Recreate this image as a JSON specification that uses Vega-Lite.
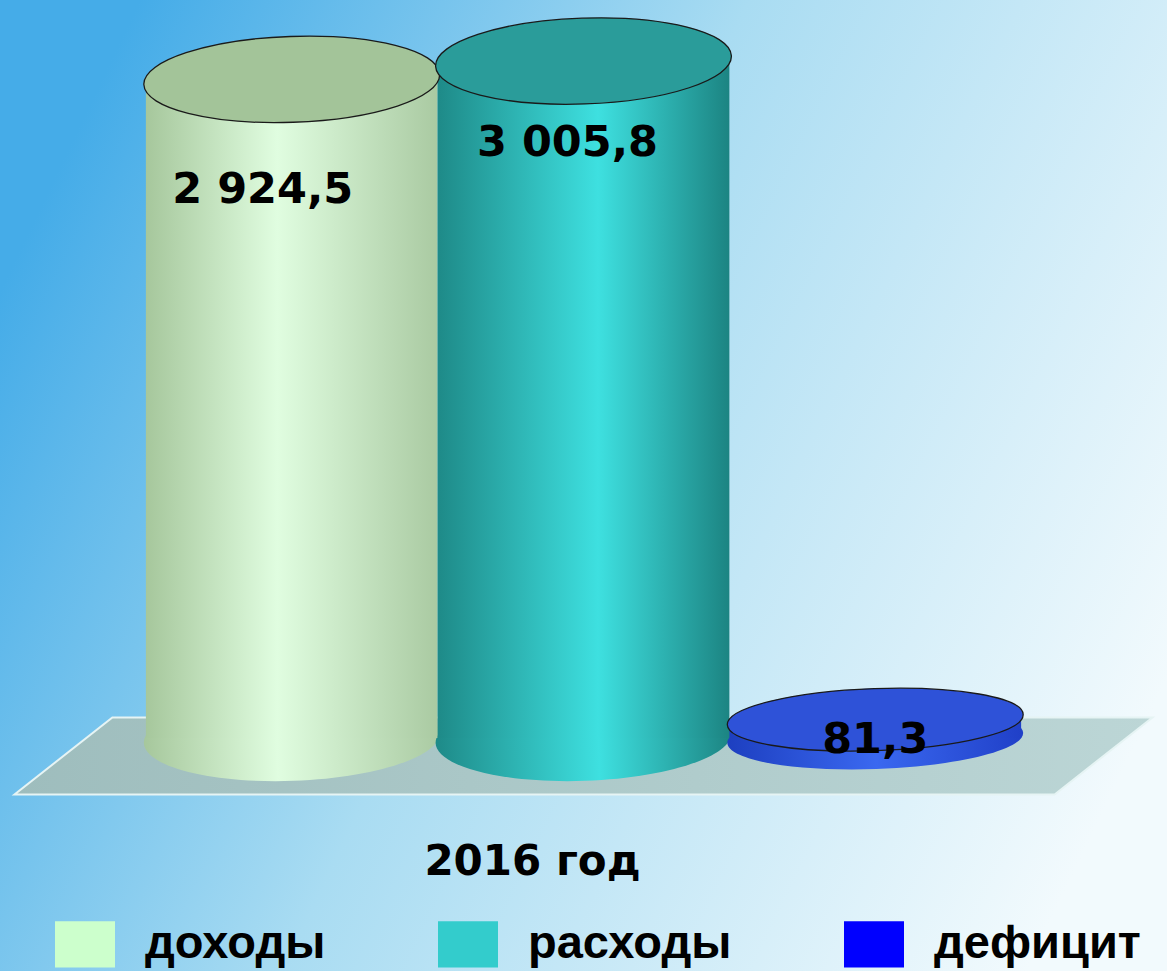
{
  "$schema": "https://vega.github.io/schema/vega-lite/v6.json",
  "width": 1167,
  "height": 971,
  "autosize": "none",
  "padding": 0,
  "background": "#ffffff",
  "config": {
    "view": {
      "stroke": null,
      "fill": {"gradient": "linear", "x1": 0, "y1": 0.3, "x2": 1, "y2": 0.7,
        "stops": [{"offset": 0, "color": "#45ace8"}, {"offset": 0.45, "color": "#a9dcf2"}, {"offset": 1, "color": "#f2fafd"}]}
    },
    "font": "DejaVu Sans"
  },
  "data": {"values": [
    {"cat": "доходы", "value": 2924.5, "label": "2 924,5"},
    {"cat": "расходы", "value": 3005.8, "label": "3 005,8"},
    {"cat": "дефицит", "value": 81.3, "label": "81,3"}
  ]},
  "encoding": {
    "x": {"field": "cat", "type": "nominal", "sort": ["доходы", "расходы", "дефицит"],
      "scale": {"paddingInner": 0, "paddingOuter": 0.5},
      "axis": {"labels": false, "ticks": false, "domain": false, "grid": false, "title": "2016 год",
        "titleFont": "DejaVu Sans", "titleFontWeight": "bold", "titleFontSize": 42, "titleColor": "#000000",
        "offset": -130, "titlePadding": 0, "titleX": 532, "titleAlign": "center"}}
  },
  "layer": [
    {
      "mark": {"type": "point", "filled": true, "size": 1295044, "opacity": 1,
        "shape": "M-1,0.0677L0.828,0.0677L1,-0.0677L-0.828,-0.0677Z",
        "fill": {"gradient": "linear", "x1": 0, "y1": 0, "x2": 1, "y2": 0, "stops": [{"offset": 0, "color": "#9ebdbd"}, {"offset": 1, "color": "#bcd6d6"}]},
        "stroke": "#e6f4f4", "strokeWidth": 2},
      "transform": [{"filter": "datum.cat === 'расходы'"}],
      "encoding": {"x": {"datum": "расходы"}, "y": {"datum": -80, "type": "quantitative", "scale": {"domain": [-1035, 3277], "nice": false, "zero": false}, "axis": null}}
    },
    {
      "mark": {"type": "bar", "width": {"band": 1}},
      "encoding": {
        "y": {"field": "value", "type": "quantitative", "stack": null, "scale": {"domain": [-1035, 3277], "nice": false, "zero": false}, "axis": null},
        "y2": {"field": "value"},
        "color": {"field": "cat", "type": "nominal",
          "scale": {"domain": ["доходы", "расходы", "дефицит"], "range": ["#ccffcc", "#33cccc", "#0000ff"]},
          "legend": {"title": null, "orient": "none", "legendX": 55, "legendY": 914, "direction": "horizontal", "columns": 3,
            "symbolType": "M-1,-0.77H1V0.77H-1Z", "symbolSize": 3600, "symbolStrokeWidth": 0, "symbolOpacity": 1,
            "labelFont": "Liberation Sans", "labelFontWeight": "bold", "labelFontSize": 47, "labelColor": "#000000",
            "labelOffset": 30, "columnPadding": 112, "labelLimit": 400}}
      }
    },
    {
      "mark": {"type": "point", "filled": true, "size": 87616, "angle": -2, "strokeWidth": 0, "opacity": 1},
      "encoding": {
        "y": {"datum": 0},
        "shape": {"condition": {"test": "datum.cat === 'дефицит'", "value": "M-1,0A1,0.21,0,1,1,1,0A1,0.21,0,1,1,-1,0Z"}, "value": "M-1,0A1,0.29,0,1,1,1,0A1,0.29,0,1,1,-1,0Z"},
        "fill": {"condition": [
          {"test": "datum.cat === 'доходы'", "value": {"gradient": "linear", "x1": 0, "y1": 0, "x2": 1, "y2": 0, "stops": [{"offset": 0, "color": "#a6c79c"}, {"offset": 0.45, "color": "#e0fde0"}, {"offset": 1, "color": "#aacaa2"}]}},
          {"test": "datum.cat === 'расходы'", "value": {"gradient": "linear", "x1": 0, "y1": 0, "x2": 1, "y2": 0, "stops": [{"offset": 0, "color": "#1e8a88"}, {"offset": 0.55, "color": "#3ee0e0"}, {"offset": 1, "color": "#1c8482"}]}}
        ], "value": {"gradient": "linear", "x1": 0, "y1": 0, "x2": 1, "y2": 0, "stops": [{"offset": 0, "color": "#1d3fc0"}, {"offset": 0.5, "color": "#3a68f0"}, {"offset": 1, "color": "#2040c8"}]}}
      }
    },
    {
      "mark": {"type": "bar", "width": {"band": 1}},
      "encoding": {
        "y": {"field": "value", "type": "quantitative", "stack": null},
        "y2": {"datum": 0},
        "fill": {"condition": [
          {"test": "datum.cat === 'доходы'", "value": {"gradient": "linear", "x1": 0, "y1": 0, "x2": 1, "y2": 0, "stops": [{"offset": 0, "color": "#a6c79c"}, {"offset": 0.45, "color": "#e0fde0"}, {"offset": 1, "color": "#aacaa2"}]}},
          {"test": "datum.cat === 'расходы'", "value": {"gradient": "linear", "x1": 0, "y1": 0, "x2": 1, "y2": 0, "stops": [{"offset": 0, "color": "#1e8a88"}, {"offset": 0.55, "color": "#3ee0e0"}, {"offset": 1, "color": "#1c8482"}]}}
        ], "value": {"gradient": "linear", "x1": 0, "y1": 0, "x2": 1, "y2": 0, "stops": [{"offset": 0, "color": "#1d3fc0"}, {"offset": 0.5, "color": "#3a68f0"}, {"offset": 1, "color": "#2040c8"}]}}
      }
    },
    {
      "mark": {"type": "point", "filled": true, "size": 87616, "angle": -2, "stroke": "#1a1a1a", "strokeWidth": 1.3, "opacity": 1},
      "encoding": {
        "y": {"field": "value", "type": "quantitative"},
        "shape": {"condition": {"test": "datum.cat === 'дефицит'", "value": "M-1,0A1,0.21,0,1,1,1,0A1,0.21,0,1,1,-1,0Z"}, "value": "M-1,0A1,0.29,0,1,1,1,0A1,0.29,0,1,1,-1,0Z"},
        "fill": {"condition": [
          {"test": "datum.cat === 'доходы'", "value": "#a3c499"},
          {"test": "datum.cat === 'расходы'", "value": "#2a9c9a"}
        ], "value": "#2e52d8"}
      }
    },
    {
      "transform": [{"filter": "datum.cat === 'доходы'"}],
      "mark": {"type": "text", "font": "DejaVu Sans", "fontWeight": "bold", "fontSize": 43, "color": "#000000", "baseline": "middle", "dx": -29, "dy": 111},
      "encoding": {"y": {"field": "value", "type": "quantitative"}, "text": {"field": "label"}}
    },
    {
      "transform": [{"filter": "datum.cat === 'расходы'"}],
      "mark": {"type": "text", "font": "DejaVu Sans", "fontWeight": "bold", "fontSize": 43, "color": "#000000", "baseline": "middle", "dx": -16, "dy": 82},
      "encoding": {"y": {"field": "value", "type": "quantitative"}, "text": {"field": "label"}}
    },
    {
      "transform": [{"filter": "datum.cat === 'дефицит'"}],
      "mark": {"type": "text", "font": "DejaVu Sans", "fontWeight": "bold", "fontSize": 43, "color": "#000000", "baseline": "middle", "dx": 0, "dy": 20},
      "encoding": {"y": {"field": "value", "type": "quantitative"}, "text": {"field": "label"}}
    }
  ]
}
